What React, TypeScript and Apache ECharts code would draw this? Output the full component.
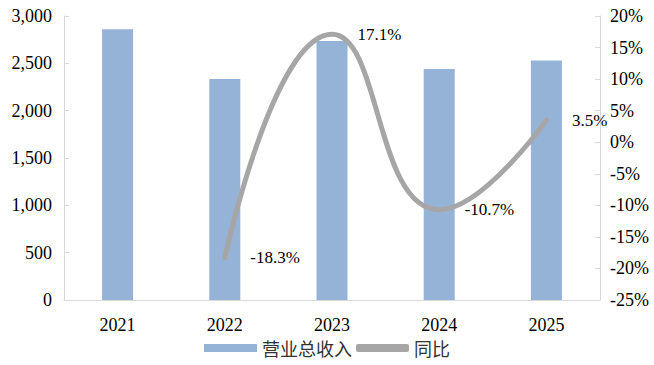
import React, { useEffect, useRef } from "react";
import * as echarts from "echarts";

const years = ["2021", "2022", "2023", "2024", "2025"];
const revenue = [2860, 2335, 2735, 2440, 2530];
const yoy = [null, -18.3, 17.1, -10.7, 3.5];

export default function App() {
  const ref = useRef<HTMLDivElement>(null);
  useEffect(() => {
    const chart = echarts.init(ref.current!, null, { renderer: "svg" });
    const font = "Liberation Serif";
    chart.setOption({
      animation: false,
      textStyle: { fontFamily: font },
      grid: { left: 64, right: 54, top: 16, bottom: 65 },
      legend: {
        bottom: 3,
        left: "center",
        itemGap: 4,
        textStyle: { fontFamily: "Noto Sans CJK SC", fontSize: 18, color: "#333" },
        data: [
          { name: "营业总收入", icon: "rect", itemStyle: { color: "#95b3d7" } },
          { name: "同比", icon: "roundRect" },
        ],
        itemWidth: 53,
        itemHeight: 8,
      },
      xAxis: {
        type: "category",
        data: years,
        axisLine: { lineStyle: { color: "#d9d9d9" } },
        axisTick: { show: false },
        axisLabel: { color: "#000", fontSize: 18, margin: 16, fontFamily: font },
      },
      yAxis: [
        {
          type: "value",
          min: 0,
          max: 3000,
          interval: 500,
          splitLine: { show: false },
          axisLine: { show: true, lineStyle: { color: "#d9d9d9" } },
          axisTick: { show: true, inside: true, length: 5, lineStyle: { color: "#d9d9d9" } },
          axisLabel: {
            color: "#000",
            fontSize: 18,
            margin: 12,
            fontFamily: font,
            formatter: (v: number) => v.toLocaleString("en-US"),
          },
        },
        {
          type: "value",
          min: -25,
          max: 20,
          interval: 5,
          splitLine: { show: false },
          axisLine: { show: true, lineStyle: { color: "#d9d9d9" } },
          axisTick: { show: true, inside: true, length: 5, lineStyle: { color: "#d9d9d9" } },
          axisLabel: { color: "#000", fontSize: 18, margin: 10, fontFamily: font, formatter: "{value}%" },
        },
      ],
      series: [
        {
          name: "营业总收入",
          type: "bar",
          data: revenue,
          barWidth: 31,
          itemStyle: { color: "#95b3d7" },
        },
        {
          name: "同比",
          type: "line",
          yAxisIndex: 1,
          data: yoy,
          smooth: 0.5,
          showSymbol: true,
          symbol: "circle",
          symbolSize: 1,
          lineStyle: { color: "#a6a6a6", width: 5, cap: "round" },
          itemStyle: { color: "#a6a6a6" },
          label: {
            show: true,
            position: "right",
            distance: 25,
            color: "#000",
            fontSize: 17,
            fontFamily: font,
            formatter: (p: any) => p.value + "%",
          },
        },
      ],
    });
    return () => chart.dispose();
  }, []);
  return <div ref={ref} style={{ width: 654, height: 365, position: "absolute", left: 0, top: 0 }} />;
}
